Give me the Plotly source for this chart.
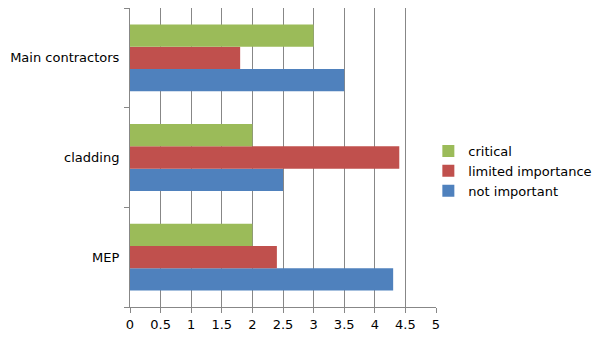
import plotly.graph_objects as go

# Ratings per trade package
categories = ["MEP", "cladding", "Main contractors"]
not_important = [4.3, 2.5, 3.5]
limited_importance = [2.4, 4.4, 1.8]
critical = [2.0, 2.0, 3.0]

x_ticks = [0, 0.5, 1, 1.5, 2, 2.5, 3, 3.5, 4, 4.5, 5]
x_tick_labels = ["0", "0.5", "1", "1.5", "2", "2.5", "3", "3.5", "4", "4.5", "5"]

series = [
    ("not important", not_important, "#4F81BD"),
    ("limited importance", limited_importance, "#C0504D"),
    ("critical", critical, "#9BBB59"),
]

fig = go.Figure()
for name, vals, color in series:
    fig.add_trace(go.Bar(
        y=categories, x=vals, name=name, orientation="h",
        marker=dict(color=color, line=dict(width=0)),
    ))

axis_grey = "#878787"
fig.update_layout(
    width=605, height=340,
    margin=dict(l=130, r=169, t=8, b=31),
    paper_bgcolor="white", plot_bgcolor="white",
    barmode="group", bargap=0.33, bargroupgap=0,
    font=dict(family="DejaVu Sans", size=13, color="black"),
    legend=dict(
        traceorder="reversed", x=0.975, xanchor="left", y=0.455, yanchor="middle",
        font=dict(size=13), itemwidth=30, tracegroupgap=0,
    ),
    xaxis=dict(
        range=[0, 5], tickvals=x_ticks, ticktext=x_tick_labels,
        showgrid=True, gridcolor=axis_grey, gridwidth=1,
        showline=True, linecolor=axis_grey, linewidth=1,
        ticks="outside", ticklen=5, tickcolor=axis_grey,
        zeroline=False, fixedrange=True,
    ),
    yaxis=dict(
        range=[-0.5, 2.5], showgrid=False,
        showline=True, linecolor=axis_grey, linewidth=1,
        ticks="outside", tickson="boundaries", ticklen=5, tickcolor=axis_grey,
        ticklabelstandoff=7, fixedrange=True,
    ),
)

fig.write_html("out.html")
